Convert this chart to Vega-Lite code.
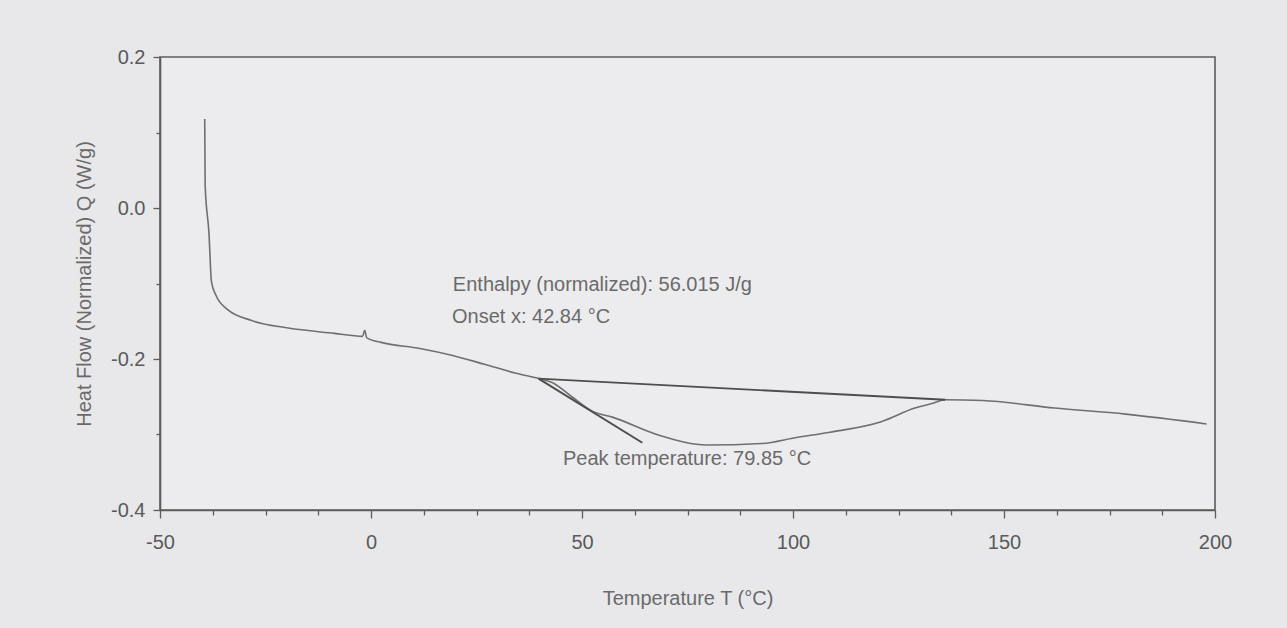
{
  "$schema": "https://vega.github.io/schema/vega-lite/v6.json",
  "width": 1055,
  "height": 453,
  "autosize": {"type": "none"},
  "padding": {"left": 160, "top": 57, "right": 72, "bottom": 118},
  "background": "#e8e8ea",
  "config": {
    "view": {"stroke": "#5c5c5c", "strokeWidth": 1.6, "fill": "#ececee"},
    "font": "Liberation Sans",
    "axis": {
      "grid": false,
      "domainColor": "#5c5c5c",
      "domainWidth": 1.6,
      "tickColor": "#5c5c5c",
      "tickWidth": 1.3,
      "labelColor": "#5a5a5a",
      "labelFont": "Liberation Sans",
      "labelFontSize": 20,
      "titleColor": "#6a6a6a",
      "titleFont": "Liberation Sans",
      "titleFontSize": 20,
      "titleFontWeight": "normal"
    }
  },
  "datasets": {
    "curve": [
      {"T": -39.4, "Q": 0.118},
      {"T": -39.3, "Q": 0.03},
      {"T": -38.4, "Q": -0.033},
      {"T": -37.8, "Q": -0.098},
      {"T": -36.8, "Q": -0.115},
      {"T": -34.1, "Q": -0.134},
      {"T": -28.3, "Q": -0.149},
      {"T": -19.6, "Q": -0.159},
      {"T": -8.7, "Q": -0.166},
      {"T": -2.0, "Q": -0.17},
      {"T": -1.5, "Q": -0.162},
      {"T": -1.0, "Q": -0.172},
      {"T": 2.4, "Q": -0.178},
      {"T": 11.6, "Q": -0.186},
      {"T": 19.1, "Q": -0.195},
      {"T": 26.9, "Q": -0.207},
      {"T": 34.4, "Q": -0.219},
      {"T": 41.3, "Q": -0.228},
      {"T": 42.9, "Q": -0.231},
      {"T": 47.6, "Q": -0.25},
      {"T": 52.4, "Q": -0.269},
      {"T": 57.2, "Q": -0.277},
      {"T": 68.3, "Q": -0.301},
      {"T": 79.6, "Q": -0.314},
      {"T": 92.5, "Q": -0.312},
      {"T": 100.8, "Q": -0.304},
      {"T": 108.8, "Q": -0.297},
      {"T": 120.9, "Q": -0.283},
      {"T": 128.9, "Q": -0.265},
      {"T": 132.9, "Q": -0.259},
      {"T": 136.1, "Q": -0.254},
      {"T": 145.0, "Q": -0.255},
      {"T": 162.0, "Q": -0.265},
      {"T": 178.8, "Q": -0.273},
      {"T": 198.0, "Q": -0.286}
    ],
    "baseline": [
      {"T": 39.7, "Q": -0.226},
      {"T": 136.1, "Q": -0.254}
    ],
    "tangent": [
      {"T": 39.7, "Q": -0.226},
      {"T": 64.3, "Q": -0.311}
    ],
    "notes": [
      {"T": 19.4, "Q": -0.102, "label": "Enthalpy (normalized): 56.015 J/g"},
      {"T": 19.2, "Q": -0.145, "label": "Onset x: 42.84 °C"},
      {"T": 45.5, "Q": -0.333, "label": "Peak temperature: 79.85 °C"}
    ]
  },
  "layer": [
    {
      "data": {"name": "curve"},
      "mark": {"type": "line", "color": "#6f6f6f", "strokeWidth": 1.6, "interpolate": "monotone"},
      "encoding": {
        "x": {
          "field": "T", "type": "quantitative",
          "scale": {"domain": [-50, 200], "nice": false, "zero": false},
          "axis": {
            "title": "Temperature T (°C)",
            "values": [-50, -37.5, -25, -12.5, 0, 12.5, 25, 37.5, 50, 62.5, 75, 87.5, 100, 112.5, 125, 137.5, 150, 162.5, 175, 187.5, 200],
            "labelExpr": "datum.value % 50 === 0 ? replace(format(datum.value, 'd'), '\u2212', '-') : ''",
            "tickSize": {"condition": {"test": "datum.value % 50 === 0", "value": 8}, "value": 5},
            "labelPadding": 14,
            "titlePadding": 36,
            "labelFlush": false,
            "labelOverlap": false
          }
        },
        "y": {
          "field": "Q", "type": "quantitative",
          "scale": {"domain": [-0.4, 0.2], "nice": false, "zero": false},
          "axis": {
            "title": "Heat Flow (Normalized) Q (W/g)",
            "values": [-0.4, -0.35, -0.3, -0.25, -0.2, -0.15, -0.1, -0.05, 0, 0.05, 0.1, 0.15, 0.2],
            "labelExpr": "abs(round(datum.value * 100)) % 20 === 0 ? replace(format(datum.value, '.1f'), '\u2212', '-') : ''",
            "tickSize": {"condition": {"test": "abs(round(datum.value * 100)) % 20 === 0", "value": 7}, "value": 4},
            "labelPadding": 8,
            "titlePadding": 16,
            "labelFlush": false,
            "labelOverlap": false
          }
        }
      }
    },
    {
      "data": {"name": "baseline"},
      "mark": {"type": "line", "color": "#4d4d4d", "strokeWidth": 1.9},
      "encoding": {
        "x": {"field": "T", "type": "quantitative"},
        "y": {"field": "Q", "type": "quantitative"}
      }
    },
    {
      "data": {"name": "tangent"},
      "mark": {"type": "line", "color": "#4d4d4d", "strokeWidth": 1.9},
      "encoding": {
        "x": {"field": "T", "type": "quantitative"},
        "y": {"field": "Q", "type": "quantitative"}
      }
    },
    {
      "data": {"name": "notes"},
      "mark": {"type": "text", "align": "left", "baseline": "middle", "fontSize": 20, "font": "Liberation Sans", "color": "#6a6a6a"},
      "encoding": {
        "x": {"field": "T", "type": "quantitative"},
        "y": {"field": "Q", "type": "quantitative"},
        "text": {"field": "label"}
      }
    }
  ]
}
